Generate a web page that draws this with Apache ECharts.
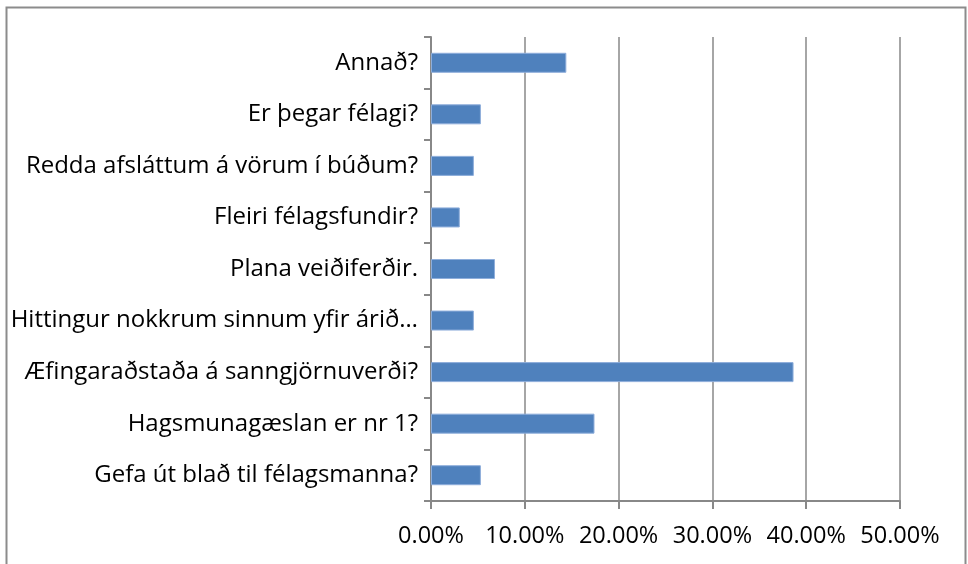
<!DOCTYPE html>
<html><head><meta charset="utf-8">
<script src="https://cdn.jsdelivr.net/npm/echarts@6/dist/echarts.min.js"></script>
<style>html,body{margin:0;padding:0;background:#fff}#c{width:968px;height:564px}</style>
</head><body><div id="c"></div>
<script>
const categories = [
  'Gefa út blað til félagsmanna?',
  'Hagsmunagæslan er nr 1?',
  'Æfingaraðstaða á sanngjörnuverði?',
  'Hittingur nokkrum sinnum yfir árið…',
  'Plana veiðiferðir.',
  'Fleiri félagsfundir?',
  'Redda afsláttum á vörum í búðum?',
  'Er þegar félagi?',
  'Annað?'
];
const values = [0.0532, 0.1743, 0.3865, 0.0457, 0.0682, 0.0307, 0.0457, 0.0532, 0.1443];
const xTicks = { min: 0, max: 0.5, interval: 0.1 };

const chart = echarts.init(document.getElementById('c'));
chart.setOption({
  animation: false,
  textStyle: { fontFamily: 'Open Sans' },
  graphic: [{
    type: 'rect', shape: { x: 6.5, y: 7.5, width: 959, height: 570 },
    style: { fill: 'none', stroke: '#8c8c8c', lineWidth: 2 }, silent: true
  }],
  grid: { left: 431, right: 68, top: 37, bottom: 63, containLabel: false },
  xAxis: {
    type: 'value', min: xTicks.min, max: xTicks.max, interval: xTicks.interval,
    axisLine: { show: true, lineStyle: { color: '#888', width: 2 } },
    axisTick: { show: true, length: 8, lineStyle: { color: '#888', width: 2 } },
    splitLine: { show: true, lineStyle: { color: '#888', width: 1.5 } },
    axisLabel: { color: '#000', fontSize: 23.5, margin: 23,
      formatter: v => (v * 100).toFixed(2) + '%' }
  },
  yAxis: {
    type: 'category', data: categories,
    axisLine: { show: true, lineStyle: { color: '#888', width: 2 } },
    axisTick: { show: true, length: 7, lineStyle: { color: '#888', width: 2 } },
    axisLabel: { color: '#000', fontSize: 24, margin: 13 }
  },
  series: [{
    type: 'bar', data: values, barWidth: 20,
    itemStyle: { color: '#4F81BD', borderColor: '#8EAEDB', borderWidth: 1 }
  }]
});
</script></body></html>
